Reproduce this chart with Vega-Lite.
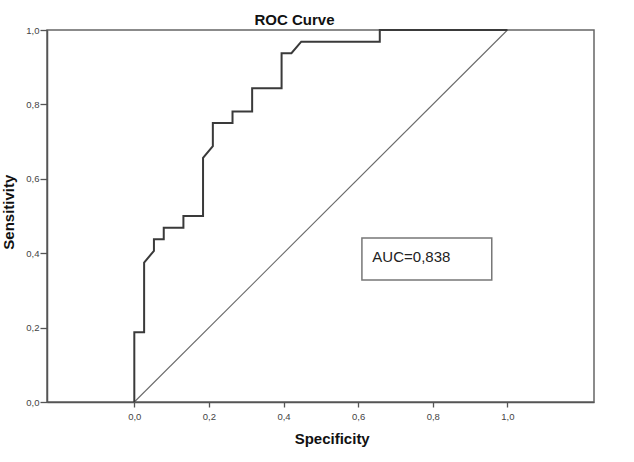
{
  "$schema": "https://vega.github.io/schema/vega-lite/v6.json",
  "autosize": {"type": "none"},
  "padding": {"left": 47, "top": 30, "right": 40, "bottom": 60},
  "width": 547,
  "height": 372,
  "background": "white",
  "config": {
    "font": "Liberation Sans",
    "view": {"stroke": "#666", "strokeWidth": 1.5},
    "axis": {"grid": false, "domainColor": "#555", "domainWidth": 1.5, "tickColor": "#555", "tickWidth": 1.3, "labelColor": "#444", "labelFontSize": 9.5, "labelFont": "Liberation Sans", "titleFont": "Liberation Sans", "titleFontSize": 15, "titleFontWeight": "bold", "titleColor": "#111"}
  },
  "title": {"text": "ROC Curve", "font": "Liberation Sans", "fontSize": 15, "fontWeight": "bold", "color": "#111", "anchor": "middle", "frame": "group", "dx": -26, "dy": 22, "baseline": "bottom", "offset": 4},
  "datasets": {
    "roc": [
      {"i": 0, "spec": 0, "sens": 0},
      {"i": 1, "spec": 0, "sens": 0.1875},
      {"i": 2, "spec": 0.0263, "sens": 0.1875},
      {"i": 3, "spec": 0.0263, "sens": 0.375},
      {"i": 4, "spec": 0.0526, "sens": 0.40625},
      {"i": 5, "spec": 0.0526, "sens": 0.4375},
      {"i": 6, "spec": 0.0789, "sens": 0.4375},
      {"i": 7, "spec": 0.0789, "sens": 0.46875},
      {"i": 8, "spec": 0.1316, "sens": 0.46875},
      {"i": 9, "spec": 0.1316, "sens": 0.5},
      {"i": 10, "spec": 0.1842, "sens": 0.5},
      {"i": 11, "spec": 0.1842, "sens": 0.65625},
      {"i": 12, "spec": 0.2105, "sens": 0.6875},
      {"i": 13, "spec": 0.2105, "sens": 0.75},
      {"i": 14, "spec": 0.2632, "sens": 0.75},
      {"i": 15, "spec": 0.2632, "sens": 0.78125},
      {"i": 16, "spec": 0.3158, "sens": 0.78125},
      {"i": 17, "spec": 0.3158, "sens": 0.84375},
      {"i": 18, "spec": 0.3947, "sens": 0.84375},
      {"i": 19, "spec": 0.3947, "sens": 0.9375},
      {"i": 20, "spec": 0.4211, "sens": 0.9375},
      {"i": 21, "spec": 0.4474, "sens": 0.96875},
      {"i": 22, "spec": 0.6579, "sens": 0.96875},
      {"i": 23, "spec": 0.6579, "sens": 1},
      {"i": 24, "spec": 1, "sens": 1}
    ],
    "diag": [
      {"i": 0, "spec": 0, "sens": 0},
      {"i": 1, "spec": 1, "sens": 1}
    ],
    "box": [
      {"x": 0.61, "x2": 0.958, "y": 0.441, "y2": 0.328, "tx": 0.638, "ty": 0.377, "label": "AUC=0,838"}
    ]
  },
  "layer": [
    {
      "data": {"name": "diag"},
      "mark": {"type": "line", "color": "#6a6a6a", "strokeWidth": 1.1},
      "encoding": {
        "x": {"field": "spec", "type": "quantitative", "scale": {"domain": [-0.234, 1.232], "nice": false, "zero": false},
          "axis": {"title": "Specificity", "values": [0, 0.2, 0.4, 0.6, 0.8, 1], "labelExpr": "replace(format(datum.value, '.1f'), '.', ',')", "tickSize": 5, "labelPadding": 4, "titleX": 284.7, "titleY": 41.3, "titleBaseline": "alphabetic", "titleAnchor": null}},
        "y": {"field": "sens", "type": "quantitative", "scale": {"domain": [0, 1], "nice": false},
          "axis": {"title": "Sensitivity", "values": [0, 0.2, 0.4, 0.6, 0.8, 1], "labelExpr": "replace(format(datum.value, '.1f'), '.', ',')", "tickSize": 7, "labelPadding": 1, "titleX": -33.7, "titleY": 181.7, "titleBaseline": "alphabetic", "titleAngle": 270}},
        "order": {"field": "i", "type": "quantitative"}
      }
    },
    {
      "data": {"name": "roc"},
      "mark": {"type": "line", "color": "#3a3a3a", "strokeWidth": 2, "strokeJoin": "miter"},
      "encoding": {
        "x": {"field": "spec", "type": "quantitative"},
        "y": {"field": "sens", "type": "quantitative"},
        "order": {"field": "i", "type": "quantitative"}
      }
    },
    {
      "data": {"name": "box"},
      "mark": {"type": "rect", "fill": "white", "stroke": "#777", "strokeWidth": 1.5},
      "encoding": {
        "x": {"field": "x", "type": "quantitative"},
        "x2": {"field": "x2"},
        "y": {"field": "y", "type": "quantitative"},
        "y2": {"field": "y2"}
      }
    },
    {
      "data": {"name": "box"},
      "mark": {"type": "text", "align": "left", "baseline": "alphabetic", "font": "Liberation Sans", "fontSize": 15, "color": "#222"},
      "encoding": {
        "x": {"field": "tx", "type": "quantitative"},
        "y": {"field": "ty", "type": "quantitative"},
        "text": {"field": "label"}
      }
    }
  ]
}
